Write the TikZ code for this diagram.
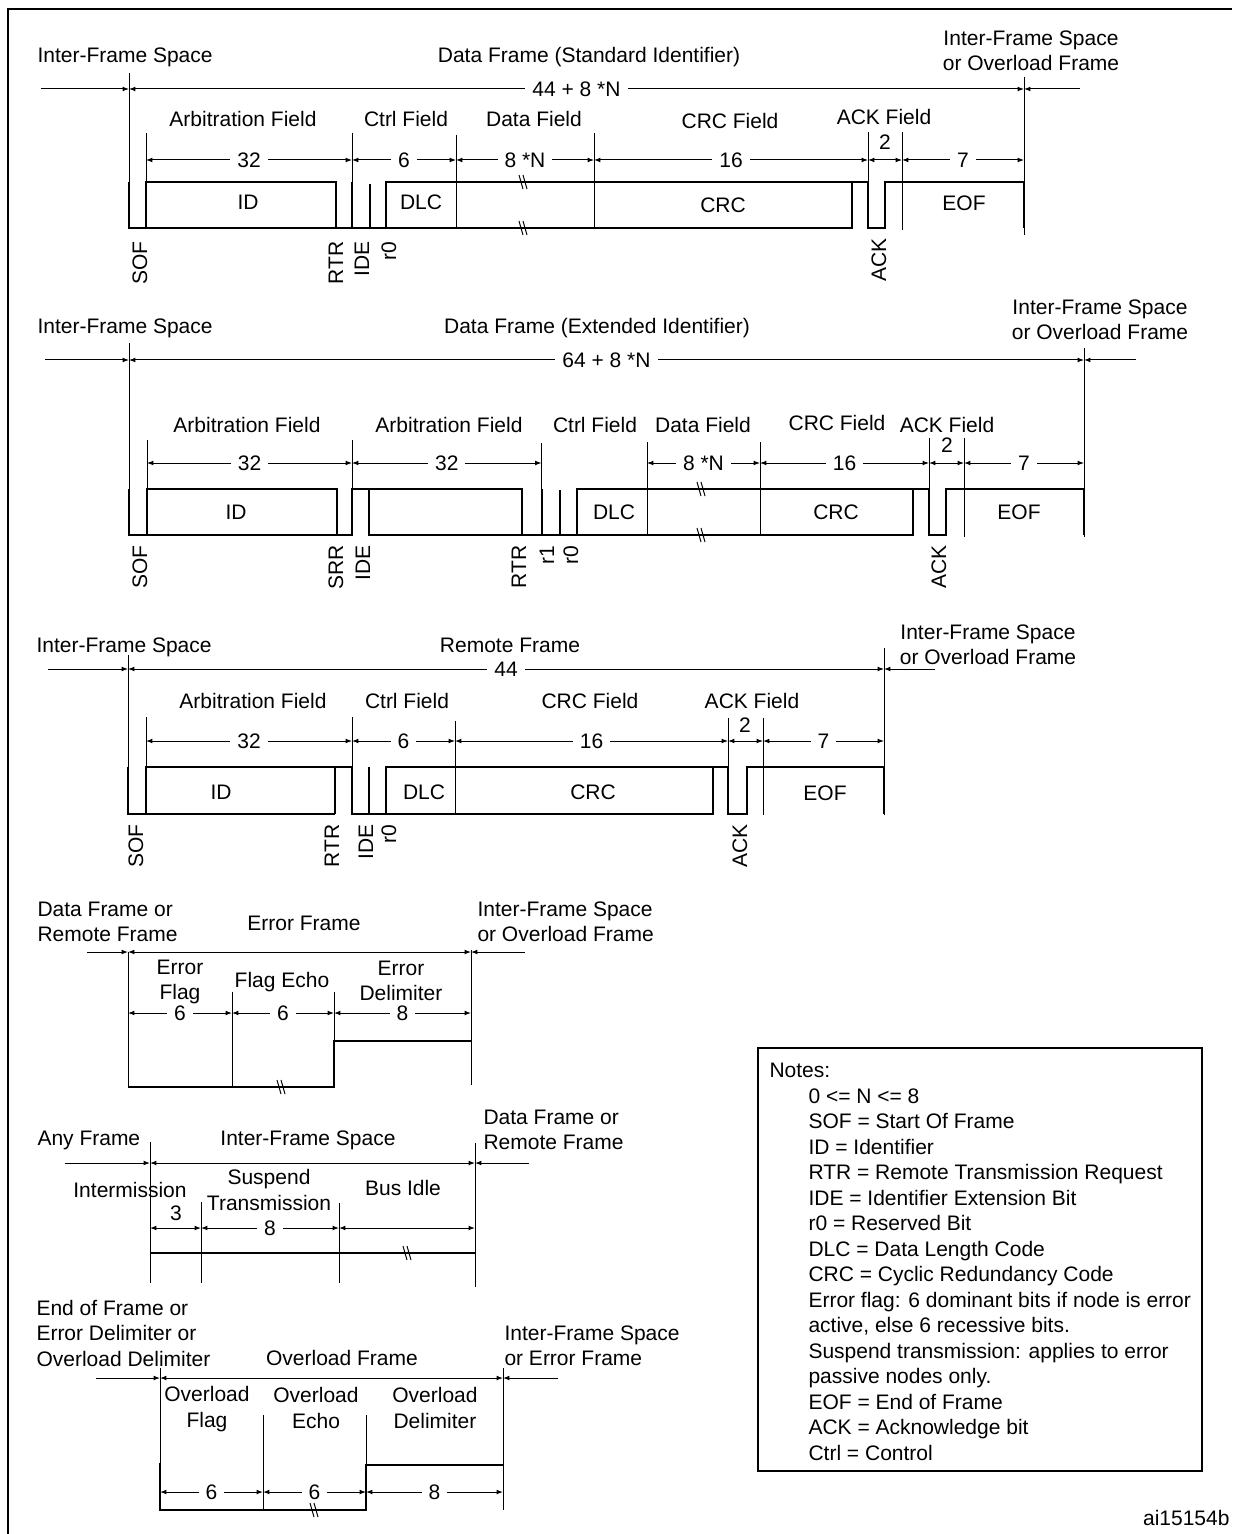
\documentclass[tikz,border=0pt]{standalone}
\usepackage{fontspec}
\setmainfont{Liberation Sans}
\usetikzlibrary{arrows.meta,positioning,calc}

\begin{document}
\begin{tikzpicture}[
x=0.5pt, y=-0.5pt, >={Latex[length=3.2pt,width=2.4pt]}, line width=0.5pt,
font=\fontsize{10.5}{12.75}\selectfont, inner sep=0pt,
wave-line/.style = {line width=1pt},
dim-label/.style = {fill=white, inner xsep=3.5pt, inner ysep=1pt},
bit-label/.style = {rotate=90, anchor=east},
two-line/.style = {align=center},
side-text/.style = {align=left, anchor=west},
break-mark/.pic = {\draw (-5,-7) -- (-1,7) (-1,-7) -- (3,7);}
]
\useasboundingbox (0,0) rectangle (1232,1534);
\draw[line width=1pt] (8,1534) -- (8,9) -- (1232,9);

% ---- data frame, standard identifier
\node[anchor=base west] (f1-prev) at (37,63) {Inter-Frame Space};
\node[anchor=base] (f1-name) at (589,63) {Data Frame (Standard Identifier)};
\node[two-line] (f1-next) at (1031,51) {Inter-Frame Space\\or Overload Frame};

\coordinate (f1-t0) at (41,89);
\coordinate (f1-t1) at (129,89);
\coordinate (f1-t2) at (1024,89);
\coordinate (f1-t3) at (1080,89);
\draw[->] (f1-t0) -- (f1-t1);
\draw[<->] (f1-t1) -- node[dim-label] (f1-len) {44 + 8 *N} (f1-t2);
\draw[->] (f1-t3) -- (f1-t2);

\node[anchor=base] (f1-arb) at (243,127) {Arbitration Field};
\node[anchor=base] (f1-ctrl) at (406,127) {Ctrl Field};
\node[anchor=base] (f1-data) at (534,127) {Data Field};
\node[anchor=base] (f1-crc) at (730,129) {CRC Field};
\node[anchor=base] (f1-ack) at (884,125) {ACK Field};

\coordinate (f1-d0) at (146,160);
\coordinate (f1-d1) at (352,160);
\coordinate (f1-d2) at (456,160);
\coordinate (f1-d3) at (594,160);
\coordinate (f1-d4) at (868,160);
\coordinate (f1-d5) at (902,160);
\coordinate (f1-d6) at (1024,160);
\draw[<->] (f1-d0) -- node[dim-label] (f1-n32) {32} (f1-d1);
\draw[<->] (f1-d1) -- node[dim-label] (f1-n6) {6} (f1-d2);
\draw[<->] (f1-d2) -- node[dim-label] (f1-n8n) {8 *N} (f1-d3);
\draw[<->] (f1-d3) -- node[dim-label] (f1-n16) {16} (f1-d4);
\draw[<->] (f1-d4) -- (f1-d5);
\node[anchor=base] (f1-n2) at (885,150) {2};
\draw[<->] (f1-d5) -- node[dim-label] (f1-n7) {7} (f1-d6);

% bit boundaries
\draw (129,73) -- (129,228);
\draw (146,133) -- (146,228);
\draw (352,133) -- (352,228);
\draw (456,135) -- (456,228);
\draw (594,133) -- (594,228);
\draw (868,132) -- (868,228);
\draw (902,132) -- (902,230);
\draw (1024,77) -- (1024,235);
% waveform
\draw[wave-line] (129,182) -- (129,228) -- (852,228) -- (852,182);
\draw[wave-line] (146,228) -- (146,182) -- (336,182) -- (336,228);
\draw[wave-line] (352,182) -- (352,228);
\draw[wave-line] (370,184) -- (370,228);
\draw[wave-line] (386,228) -- (386,182) -- (868,182) -- (868,228) -- (885,228) -- (885,182) -- (1024,182) -- (1024,228);
\pic at (524,182) {break-mark};
\pic at (524,228) {break-mark};

\node[anchor=base] (f1-id) at (248,210) {ID};
\node[anchor=base] (f1-dlc) at (421,210) {DLC};
\node[anchor=base] (f1-crcv) at (723,213) {CRC};
\node[anchor=base] (f1-eof) at (964,211) {EOF};

\node[bit-label] (f1-sof) at (140,241) {SOF};
\node[bit-label] (f1-rtr) at (336,241) {RTR};
\node[bit-label] (f1-ide) at (362,241) {IDE};
\node[bit-label] (f1-r0) at (389,241) {r0};
\node[bit-label] (f1-ackb) at (879,238) {ACK};

% ---- data frame, extended identifier
\node[anchor=base west] (f2-prev) at (37,334) {Inter-Frame Space};
\node[anchor=base] (f2-name) at (597,334) {Data Frame (Extended Identifier)};
\node[two-line] (f2-next) at (1100,320) {Inter-Frame Space\\or Overload Frame};

\coordinate (f2-t0) at (45,360);
\coordinate (f2-t1) at (129,360);
\coordinate (f2-t2) at (1084,360);
\coordinate (f2-t3) at (1136,360);
\draw[->] (f2-t0) -- (f2-t1);
\draw[<->] (f2-t1) -- node[dim-label] (f2-len) {64 + 8 *N} (f2-t2);
\draw[->] (f2-t3) -- (f2-t2);

\node[anchor=base] (f2-arb1) at (247,432) {Arbitration Field};
\node[anchor=base] (f2-arb2) at (449,432) {Arbitration Field};
\node[anchor=base] (f2-ctrl) at (595,432) {Ctrl Field};
\node[anchor=base] (f2-data) at (703,432) {Data Field};
\node[anchor=base] (f2-crc) at (837,430) {CRC Field};
\node[anchor=base] (f2-ack) at (947,432) {ACK Field};

\coordinate (f2-d0) at (147,463);
\coordinate (f2-d1) at (352,463);
\coordinate (f2-d2) at (541.5,463);
\coordinate (f2-d3) at (647,463);
\coordinate (f2-d4) at (760,463);
\coordinate (f2-d5) at (929,463);
\coordinate (f2-d6) at (964,463);
\coordinate (f2-d7) at (1084,463);
\draw[<->] (f2-d0) -- node[dim-label] (f2-n32a) {32} (f2-d1);
\draw[<->] (f2-d1) -- node[dim-label] (f2-n32b) {32} (f2-d2);
\draw[<->] (f2-d3) -- node[dim-label] (f2-n8n) {8 *N} (f2-d4);
\draw[<->] (f2-d4) -- node[dim-label] (f2-n16) {16} (f2-d5);
\draw[<->] (f2-d5) -- (f2-d6);
\node[anchor=base] (f2-n2) at (947,452) {2};
\draw[<->] (f2-d6) -- node[dim-label] (f2-n7) {7} (f2-d7);

% bit boundaries
\draw (129,343) -- (129,536);
\draw (147,440) -- (147,535);
\draw (352,440) -- (352,535);
\draw (541.5,443) -- (541.5,535);
\draw (647,442) -- (647,535);
\draw (760,442) -- (760,535);
\draw (929,438) -- (929,535);
\draw (964,438) -- (964,537);
\draw (1084,348) -- (1084,537);
% waveform
\draw[wave-line] (129,489) -- (129,535) -- (352,535) -- (352,489) -- (522,489) -- (522,535);
\draw[wave-line] (147,535) -- (147,489) -- (337,489) -- (337,535);
\draw[wave-line] (369,489) -- (369,535) -- (913,535) -- (913,489);
\draw[wave-line] (541.5,489) -- (541.5,535);
\draw[wave-line] (560,490) -- (560,535);
\draw[wave-line] (577,535) -- (577,489) -- (929,489) -- (929,535) -- (946,535) -- (946,489) -- (1084,489) -- (1084,535);
\pic at (702,489) {break-mark};
\pic at (702,535) {break-mark};

\node[anchor=base] (f2-id) at (236,519) {ID};
\node[anchor=base] (f2-dlc) at (614,519) {DLC};
\node[anchor=base] (f2-crcv) at (836,519) {CRC};
\node[anchor=base] (f2-eof) at (1019,519) {EOF};

\node[bit-label] (f2-sof) at (140,545) {SOF};
\node[bit-label] (f2-srr) at (336,545) {SRR};
\node[bit-label] (f2-ide) at (363,545) {IDE};
\node[bit-label] (f2-rtr) at (519,545) {RTR};
\node[bit-label] (f2-r1) at (547,545) {r1};
\node[bit-label] (f2-r0) at (571,545) {r0};
\node[bit-label] (f2-ackb) at (939,545) {ACK};

% ---- remote frame
\node[anchor=base west] (f3-prev) at (36,652) {Inter-Frame Space};
\node[anchor=base] (f3-name) at (510,652) {Remote Frame};
\node[two-line] (f3-next) at (988,645) {Inter-Frame Space\\or Overload Frame};

\coordinate (f3-t0) at (48,669);
\coordinate (f3-t1) at (128,669);
\coordinate (f3-t2) at (884,669);
\coordinate (f3-t3) at (935,669);
\draw[->] (f3-t0) -- (f3-t1);
\draw[<->] (f3-t1) -- node[dim-label] (f3-len) {44} (f3-t2);
\draw[->] (f3-t3) -- (f3-t2);

\node[anchor=base] (f3-arb) at (253,708) {Arbitration Field};
\node[anchor=base] (f3-ctrl) at (407,708) {Ctrl Field};
\node[anchor=base] (f3-crc) at (590,708) {CRC Field};
\node[anchor=base] (f3-ack) at (752,708) {ACK Field};

\coordinate (f3-d0) at (146,741);
\coordinate (f3-d1) at (352,741);
\coordinate (f3-d2) at (455,741);
\coordinate (f3-d3) at (728,741);
\coordinate (f3-d4) at (763,741);
\coordinate (f3-d5) at (884,741);
\draw[<->] (f3-d0) -- node[dim-label] (f3-n32) {32} (f3-d1);
\draw[<->] (f3-d1) -- node[dim-label] (f3-n6) {6} (f3-d2);
\draw[<->] (f3-d2) -- node[dim-label] (f3-n16) {16} (f3-d3);
\draw[<->] (f3-d3) -- (f3-d4);
\node[anchor=base] (f3-n2) at (745,732) {2};
\draw[<->] (f3-d4) -- node[dim-label] (f3-n7) {7} (f3-d5);

% bit boundaries
\draw (128,655) -- (128,814);
\draw (146,717) -- (146,814);
\draw (352,717) -- (352,814);
\draw (455,721) -- (455,814);
\draw (728,718) -- (728,814);
\draw (763,718) -- (763,815);
\draw (884,648) -- (884,815);
% waveform
\draw[wave-line] (128,767) -- (128,814) -- (335,814);
\draw[wave-line] (146,814) -- (146,767) -- (352,767) -- (352,814) -- (713,814) -- (713,767);
\draw[wave-line] (335,767) -- (335,814);
\draw[wave-line] (369,767) -- (369,814);
\draw[wave-line] (386,814) -- (386,767) -- (728,767) -- (728,814) -- (747,814) -- (747,767) -- (884,767) -- (884,814);

\node[anchor=base] (f3-id) at (221,799) {ID};
\node[anchor=base] (f3-dlc) at (424,799) {DLC};
\node[anchor=base] (f3-crcv) at (593,799) {CRC};
\node[anchor=base] (f3-eof) at (825,800) {EOF};

\node[bit-label] (f3-sof) at (136,824) {SOF};
\node[bit-label] (f3-rtr) at (332,824) {RTR};
\node[bit-label] (f3-ide) at (366,824) {IDE};
\node[bit-label] (f3-r0) at (389,824) {r0};
\node[bit-label] (f3-ackb) at (740,824) {ACK};

% ---- error frame
\node[side-text] (ef-prev) at (37,922) {Data Frame or\\Remote Frame};
\node[anchor=base] (ef-name) at (304,930) {Error Frame};
\node[side-text] (ef-next) at (477,922) {Inter-Frame Space\\or Overload Frame};

\coordinate (ef-t0) at (87,952);
\coordinate (ef-t1) at (128,952);
\coordinate (ef-t2) at (471,952);
\coordinate (ef-t3) at (525,952);
\draw[->] (ef-t0) -- (ef-t1);
\draw[<->] (ef-t1) -- (ef-t2);
\draw[->] (ef-t3) -- (ef-t2);

\node[two-line] (ef-flag) at (180,982) {Error\\Flag};
\node[anchor=base] (ef-echo) at (282,987) {Flag Echo};
\node[two-line] (ef-delim) at (401,981) {Error\\Delimiter};

\coordinate (ef-d0) at (128,1013);
\coordinate (ef-d1) at (232,1013);
\coordinate (ef-d2) at (334,1013);
\coordinate (ef-d3) at (471,1013);
\draw[<->] (ef-d0) -- node[dim-label] (ef-n6a) {6} (ef-d1);
\draw[<->] (ef-d1) -- node[dim-label] (ef-n6b) {6} (ef-d2);
\draw[<->] (ef-d2) -- node[dim-label] (ef-n8) {8} (ef-d3);

\draw (128,952) -- (128,1087);
\draw (232,992) -- (232,1087);
\draw (334,992) -- (334,1041);
\draw (471,950) -- (471,1085);
\draw[wave-line] (128,1087) -- (334,1087) -- (334,1041) -- (471,1041);
\pic at (282,1087) {break-mark};

% ---- inter-frame space
\node[anchor=base west] (is-prev) at (37,1145) {Any Frame};
\node[anchor=base] (is-name) at (308,1145) {Inter-Frame Space};
\node[side-text] (is-next) at (483,1130) {Data Frame or\\Remote Frame};

\coordinate (is-t0) at (65,1163);
\coordinate (is-t1) at (150,1163);
\coordinate (is-t2) at (475,1163);
\coordinate (is-t3) at (529,1163);
\draw[->] (is-t0) -- (is-t1);
\draw[<->] (is-t1) -- (is-t2);
\draw[->] (is-t3) -- (is-t2);

\node[anchor=base] (is-int) at (130,1197) {Intermission};
\node[anchor=base] (is-n3) at (176,1220) {3};
\node[two-line] (is-susp) at (269,1190) {Suspend\\Transmission};
\node[anchor=base] (is-idle) at (403,1195) {Bus Idle};

\coordinate (is-d0) at (150,1228);
\coordinate (is-d1) at (201,1228);
\coordinate (is-d2) at (339,1228);
\coordinate (is-d3) at (475,1228);
\draw[<->] (is-d0) -- (is-d1);
\draw[<->] (is-d1) -- node[dim-label] (is-n8) {8} (is-d2);
\draw[<->] (is-d2) -- (is-d3);

\draw (150,1142) -- (150,1283);
\draw (201,1202) -- (201,1283);
\draw (339,1203) -- (339,1283);
\draw (475,1143) -- (475,1287);
\draw[wave-line] (150,1253) -- (475,1253);
\pic at (408,1253) {break-mark};

% ---- overload frame
\node[side-text] (ov-prev) at (36,1333) {End of Frame or\\Error Delimiter or\\Overload Delimiter};
\node[anchor=base] (ov-name) at (342,1365) {Overload Frame};
\node[side-text] (ov-next) at (504,1346) {Inter-Frame Space\\or Error Frame};

\coordinate (ov-t0) at (96,1378);
\coordinate (ov-t1) at (160,1378);
\coordinate (ov-t2) at (503,1378);
\coordinate (ov-t3) at (558,1378);
\draw[->] (ov-t0) -- (ov-t1);
\draw[<->] (ov-t1) -- (ov-t2);
\draw[->] (ov-t3) -- (ov-t2);

\node[two-line] (ov-flag) at (207,1409) {Overload\\Flag};
\node[two-line] (ov-echo) at (316,1408) {Overload\\Echo};
\node[two-line] (ov-delim) at (435,1408) {Overload\\Delimiter};

\draw (160,1368) -- (160,1510);
\draw (263,1415) -- (263,1510);
\draw (366,1415) -- (366,1465);
\draw (503,1368) -- (503,1510);
\draw[wave-line] (160,1463) -- (160,1510) -- (366,1510) -- (366,1465) -- (503,1465);
\pic at (315,1510) {break-mark};

\coordinate (ov-d0) at (160,1492);
\coordinate (ov-d1) at (263,1492);
\coordinate (ov-d2) at (366,1492);
\coordinate (ov-d3) at (503,1492);
\draw[<->] (ov-d0) -- node[dim-label] (ov-n6a) {6} (ov-d1);
\draw[<->] (ov-d1) -- node[dim-label] (ov-n6b) {6} (ov-d2);
\draw[<->] (ov-d2) -- node[dim-label] (ov-n8) {8} (ov-d3);

% ---- notes
\draw[line width=0.75pt] (758,1048) rectangle (1202,1471);
\node[anchor=base west] (notes-head) at (769,1077) {Notes:};
\node[align=left, anchor=north west] (notes-list) at (808,1088) {0 <= N <= 8\\SOF = Start Of Frame\\ID = Identifier\\RTR = Remote Transmission Request\\IDE = Identifier Extension Bit\\r0 = Reserved Bit\\DLC = Data Length Code\\CRC = Cyclic Redundancy Code\\Error flag: 6 dominant bits if node is error\\active, else 6 recessive bits.\\Suspend transmission: applies to error\\passive nodes only.\\EOF = End of Frame\\ACK = Acknowledge bit\\Ctrl = Control};
\node[anchor=base east] (fig-id) at (1230,1525) {ai15154b};

\end{tikzpicture}
\end{document}
